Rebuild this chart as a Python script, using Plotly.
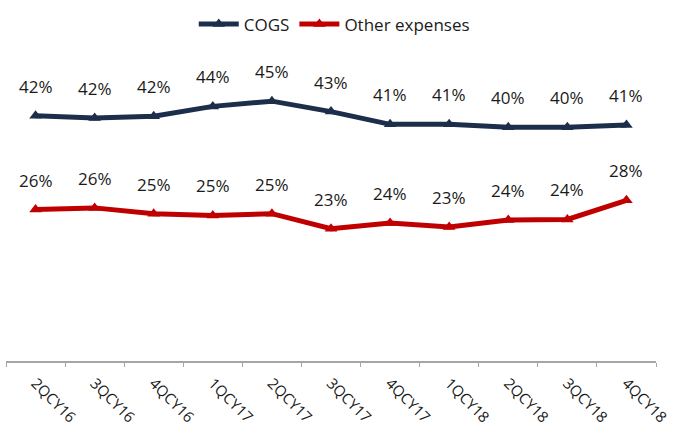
import plotly.graph_objects as go

quarters = ["2QCY16", "3QCY16", "4QCY16", "1QCY17", "2QCY17", "3QCY17",
            "4QCY17", "1QCY18", "2QCY18", "3QCY18", "4QCY18"]
cogs = [0.423, 0.419, 0.422, 0.439, 0.448, 0.430, 0.408, 0.408, 0.403, 0.403, 0.407]
other = [0.261, 0.264, 0.254, 0.251, 0.254, 0.228, 0.238, 0.231, 0.243, 0.244, 0.277]
cogs_labels = ["42%", "42%", "42%", "44%", "45%", "43%", "41%", "41%", "40%", "40%", "41%"]
other_labels = ["26%", "26%", "25%", "25%", "25%", "23%", "24%", "23%", "24%", "24%", "28%"]

NAVY = "#1c2e4a"
RED = "#c00000"
FONT = "Open Sans"

fig = go.Figure()
fig.add_trace(go.Scatter(x=quarters, y=cogs, name="COGS", mode="lines+markers",
                         line=dict(color=NAVY, width=5),
                         marker=dict(symbol="triangle-up", size=11, color=NAVY)))
fig.add_trace(go.Scatter(x=quarters, y=other, name="Other expenses", mode="lines+markers",
                         line=dict(color=RED, width=5),
                         marker=dict(symbol="triangle-up", size=11, color=RED)))

annotations = []
for xs, ys, labs in [(quarters, cogs, cogs_labels), (quarters, other, other_labels)]:
    for q, v, t in zip(xs, ys, labs):
        annotations.append(dict(x=q, y=v, text=t, showarrow=False, xanchor="center",
                                yanchor="bottom", yshift=16,
                                font=dict(family=FONT, size=17, color="#1a1a1a")))

fig.update_layout(
    width=679, height=432,
    margin=dict(l=6, r=23, t=71, b=71, autoexpand=False),
    paper_bgcolor="white", plot_bgcolor="white",
    font=dict(family=FONT, size=17, color="#1a1a1a"),
    showlegend=True,
    legend=dict(orientation="h", x=0.505, xanchor="center", y=0.985, yanchor="top",
                yref="container", font=dict(family=FONT, size=17, color="#1a1a1a"),
                itemwidth=40, tracegroupgap=0),
    annotations=annotations,
)
fig.update_xaxes(showgrid=False, showline=True, linecolor="#a6a6a6", linewidth=1.5,
                 ticks="outside", ticklen=4, tickcolor="#a6a6a6", tickson="boundaries",
                 tickangle=45, tickfont=dict(family=FONT, size=15, color="#1a1a1a"),
                 ticklabelstandoff=6, range=[-0.5, 10.5], zeroline=False,
                 automargin=False)
fig.update_yaxes(visible=False, range=[0, 0.5], showgrid=False, zeroline=False,
                 automargin=False)

fig.write_html("out.html")
